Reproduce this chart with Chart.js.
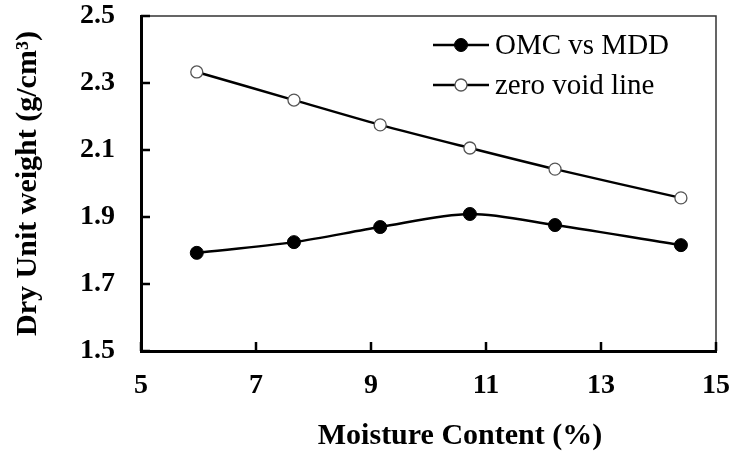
<!DOCTYPE html>
<html>
<head>
<meta charset="utf-8">
<script src="https://cdn.jsdelivr.net/npm/chart.js@4/dist/chart.umd.min.js"></script>
<style>
  html, body { margin: 0; padding: 0; background: #fff; }
  #wrap { width: 736px; height: 452px; }
</style>
</head>
<body>
<div id="wrap"><canvas id="chart" width="736" height="452"></canvas></div>
<script>
const moisture = [5.97, 7.66, 9.16, 10.72, 12.2, 14.39];
const omcVsMdd = [1.793, 1.825, 1.870, 1.909, 1.876, 1.816];
const zeroVoid = [2.333, 2.249, 2.175, 2.106, 2.043, 1.957];
const seriesNames = ["OMC vs MDD", "zero void line"];
const xTicks = [5, 7, 9, 11, 13, 15];
const yTicks = [1.5, 1.7, 1.9, 2.1, 2.3, 2.5];

const serif = "'Liberation Serif', 'Times New Roman', serif";

function pts(ys) {
  return moisture.map((x, i) => ({ x: x, y: ys[i] }));
}

function noPad(s) {
  s.paddingTop = 0;
  s.paddingBottom = 0;
  s.paddingLeft = 0;
  s.paddingRight = 0;
}

// inward tick marks, box frame, legend and x title
const decor = {
  id: "decor",
  afterDraw(chart) {
    const ctx = chart.ctx;
    const a = chart.chartArea;
    const xs = chart.scales.x, ys = chart.scales.y;
    ctx.save();

    // top and right frame
    ctx.strokeStyle = "#333";
    ctx.lineWidth = 1.5;
    ctx.beginPath();
    ctx.moveTo(a.left, a.top);
    ctx.lineTo(a.right, a.top);
    ctx.lineTo(a.right, a.bottom);
    ctx.stroke();

    // ticks pointing into the plot
    ctx.strokeStyle = "#000";
    ctx.lineWidth = 2.5;
    ctx.beginPath();
    xTicks.forEach((v) => {
      const px = xs.getPixelForValue(v);
      ctx.moveTo(px, a.bottom);
      ctx.lineTo(px, a.bottom - 9);
    });
    yTicks.forEach((v) => {
      const py = ys.getPixelForValue(v);
      ctx.moveTo(a.left, py);
      ctx.lineTo(a.left + 9, py);
    });
    ctx.stroke();

    // legend
    const rows = [45, 85];
    chart.data.datasets.forEach((ds, i) => {
      const y = rows[i];
      ctx.strokeStyle = ds.borderColor;
      ctx.lineWidth = ds.borderWidth;
      ctx.beginPath();
      ctx.moveTo(433, y);
      ctx.lineTo(489, y);
      ctx.stroke();
      ctx.beginPath();
      ctx.arc(461, y, ds.pointRadius, 0, Math.PI * 2);
      ctx.fillStyle = ds.pointBackgroundColor;
      ctx.fill();
      ctx.lineWidth = ds.pointBorderWidth;
      ctx.strokeStyle = ds.pointBorderColor;
      ctx.stroke();
      ctx.fillStyle = "#000";
      ctx.font = "29px " + serif;
      ctx.textAlign = "left";
      ctx.textBaseline = "middle";
      ctx.fillText(seriesNames[i], 495, y + 1);
    });

    // x axis title
    ctx.fillStyle = "#000";
    ctx.font = "bold 30px " + serif;
    ctx.textAlign = "center";
    ctx.textBaseline = "middle";
    ctx.fillText("Moisture Content (%)", 460, 436);

    ctx.restore();
  }
};

new Chart(document.getElementById("chart").getContext("2d"), {
  type: "scatter",
  data: {
    datasets: [
      {
        label: seriesNames[0],
        data: pts(omcVsMdd),
        showLine: true,
        tension: 0.3,
        borderColor: "#000",
        borderWidth: 2.5,
        pointRadius: 6.5,
        pointBackgroundColor: "#000",
        pointBorderColor: "#000",
        pointBorderWidth: 1
      },
      {
        label: seriesNames[1],
        data: pts(zeroVoid),
        showLine: true,
        tension: 0.3,
        borderColor: "#000",
        borderWidth: 2.5,
        pointRadius: 6,
        pointBackgroundColor: "#fff",
        pointBorderColor: "#555",
        pointBorderWidth: 1.3
      }
    ]
  },
  options: {
    responsive: false,
    animation: false,
    layout: { padding: { top: 16, right: 20, left: 0, bottom: 0 } },
    plugins: { legend: { display: false }, tooltip: { enabled: false } },
    scales: {
      x: {
        type: "linear",
        min: 5,
        max: 15,
        afterBuildTicks: (s) => { s.ticks = xTicks.map((v) => ({ value: v })); },
        afterFit: (s) => { s.height = 101; noPad(s); },
        grid: { display: true, drawOnChartArea: false, drawTicks: false },
        border: { display: true, color: "#000", width: 3 },
        ticks: {
          color: "#000",
          padding: 18,
          maxRotation: 0,
          font: { family: serif, size: 28, weight: "bold" }
        }
      },
      y: {
        type: "linear",
        min: 1.5,
        max: 2.5,
        afterBuildTicks: (s) => { s.ticks = yTicks.map((v) => ({ value: v })); },
        afterFit: (s) => { s.width = 141; noPad(s); },
        grid: { display: true, drawOnChartArea: false, drawTicks: false },
        border: { display: true, color: "#000", width: 3 },
        title: {
          display: true,
          text: "Dry Unit weight (g/cm\u00b3)",
          color: "#000",
          padding: { top: 10, bottom: 0 },
          font: { family: serif, size: 30, weight: "bold" }
        },
        ticks: {
          color: "#000",
          padding: 26,
          callback: (v) => v.toFixed(1),
          font: { family: serif, size: 28, weight: "bold" }
        }
      }
    }
  },
  plugins: [decor]
});
</script>
</body>
</html>
